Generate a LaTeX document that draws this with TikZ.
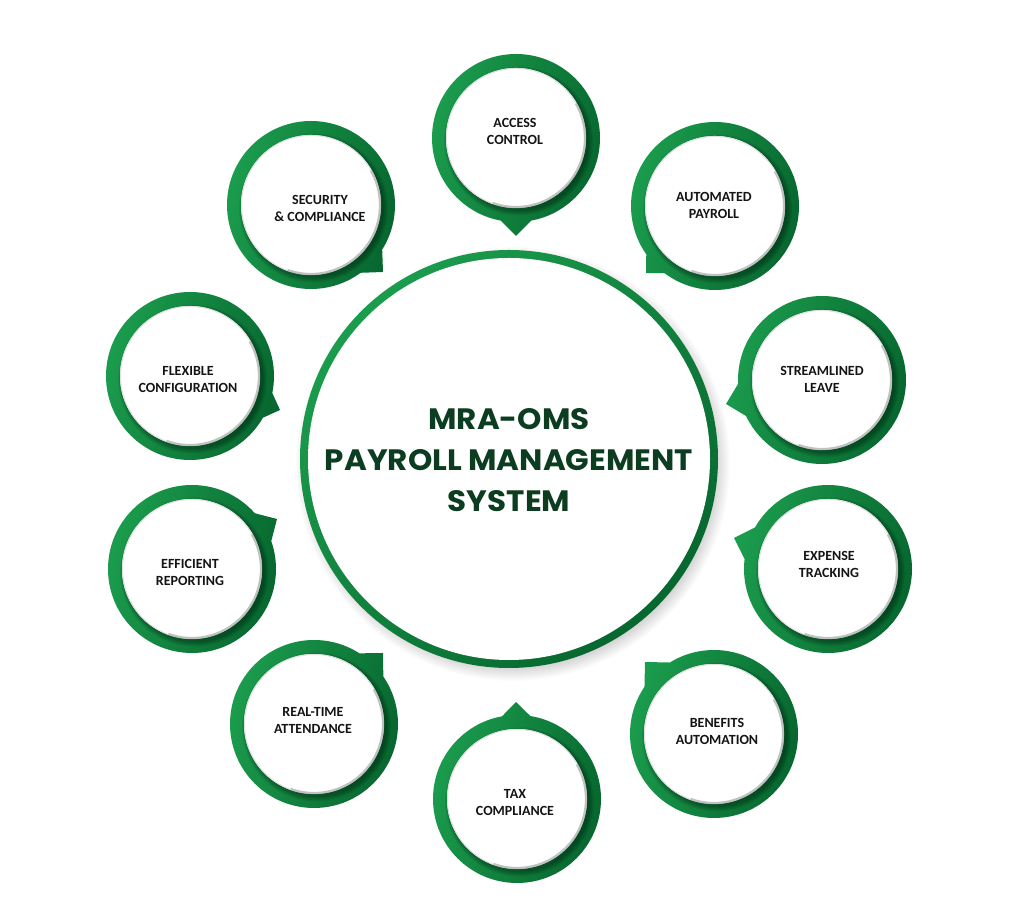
\documentclass[tikz,border=0pt]{standalone}
\usepackage{fontspec}
\newfontfamily\satfont{Carlito}
\newfontfamily\titlefont{Poppins}[FakeStretch=1.05]
\usetikzlibrary{calc}
\definecolor{gL}{HTML}{1B9C4D}
\definecolor{gD}{HTML}{07672F}
\definecolor{titleG}{HTML}{0D3D20}
\tikzset{
  satshade/.style={top color=gL, bottom color=gD, shading angle=75},
  ringshade/.style={top color=gL, bottom color=gD, shading angle=45},
  sattext/.style={font=\satfont\bfseries\fontsize{14}{17}\selectfont, align=center, text=black!92},
  titletext/.style={font=\titlefont\bfseries\fontsize{29.5}{41}\selectfont, align=center, text=titleG},
}
% #1 name, #2 #3 centre, #4 #5 tip, #6 #7 text position, #8 text
\newcommand\satellite[8]{%
  \coordinate (#1-c) at (#2,#3);
  \coordinate (#1-t) at (#4,#5);
  \shade[satshade] (#1-c) circle[radius=84]
    (#1-c) -- ($(#1-c)!0.7071!-45:(#1-t)$) -- (#1-t) -- ($(#1-c)!0.7071!45:(#1-t)$) -- cycle;
  \foreach \k in {0,...,5}{
    \fill[black,opacity=0.06] ($(#1-c)+(2.5,-3)$) circle[radius=70+0.9*\k];
  }
  \fill[white] (#1-c) circle[radius=70];
  \draw[black!30,line width=2.2,opacity=0.8] (#1-c) ++(-110:69) arc[start angle=-110,end angle=30,radius=69];
  \draw[black!12,line width=1] (#1-c) ++(30:69.5) arc[start angle=30,end angle=250,radius=69.5];
  \node[sattext] (#1) at (#6,#7) {#8};
}
\begin{document}
\begin{tikzpicture}[x=1pt,y=1pt]
\useasboundingbox (0,0) rectangle (1015,907);
% central circle
\coordinate (main-c) at (509,448);
\foreach \k in {1,...,14}{
  \fill[black,opacity=0.012] ($(main-c)+(4,-5)$) circle[radius=203+\k];
}
\shade[ringshade] (main-c) circle[radius=209];
\fill[white] (main-c) circle[radius=201];
\node[titletext] (title) at (509,447) {MRA-OMS\\PAYROLL MANAGEMENT\\SYSTEM};
% satellites
\satellite{access}{516}{769}{516}{671}{515}{775.5}{ACCESS\\CONTROL}
\satellite{automated}{715}{701}{646}{634}{714}{701.5}{AUTOMATED\\PAYROLL}
\satellite{streamlined}{822}{527}{726}{503}{822}{527.5}{STREAMLINED\\LEAVE}
\satellite{expense}{828}{338}{734}{369}{829}{342.5}{EXPENSE\\TRACKING}
\satellite{benefits}{714}{173}{645}{245}{717}{176}{BENEFITS\\AUTOMATION}
\satellite{tax}{517}{108}{516}{205}{515}{104.5}{TAX\\COMPLIANCE}
\satellite{realtime}{314}{183}{383}{254}{313}{186.5}{REAL-TIME\\ATTENDANCE}
\satellite{efficient}{192}{338}{277}{388}{190}{334.5}{EFFICIENT\\REPORTING}
\satellite{flexible}{190}{531}{280}{497}{188}{527.5}{FLEXIBLE\\CONFIGURATION}
\satellite{security}{311}{702}{383}{635}{320}{698.5}{SECURITY\\\& COMPLIANCE}
\end{tikzpicture}
\end{document}
